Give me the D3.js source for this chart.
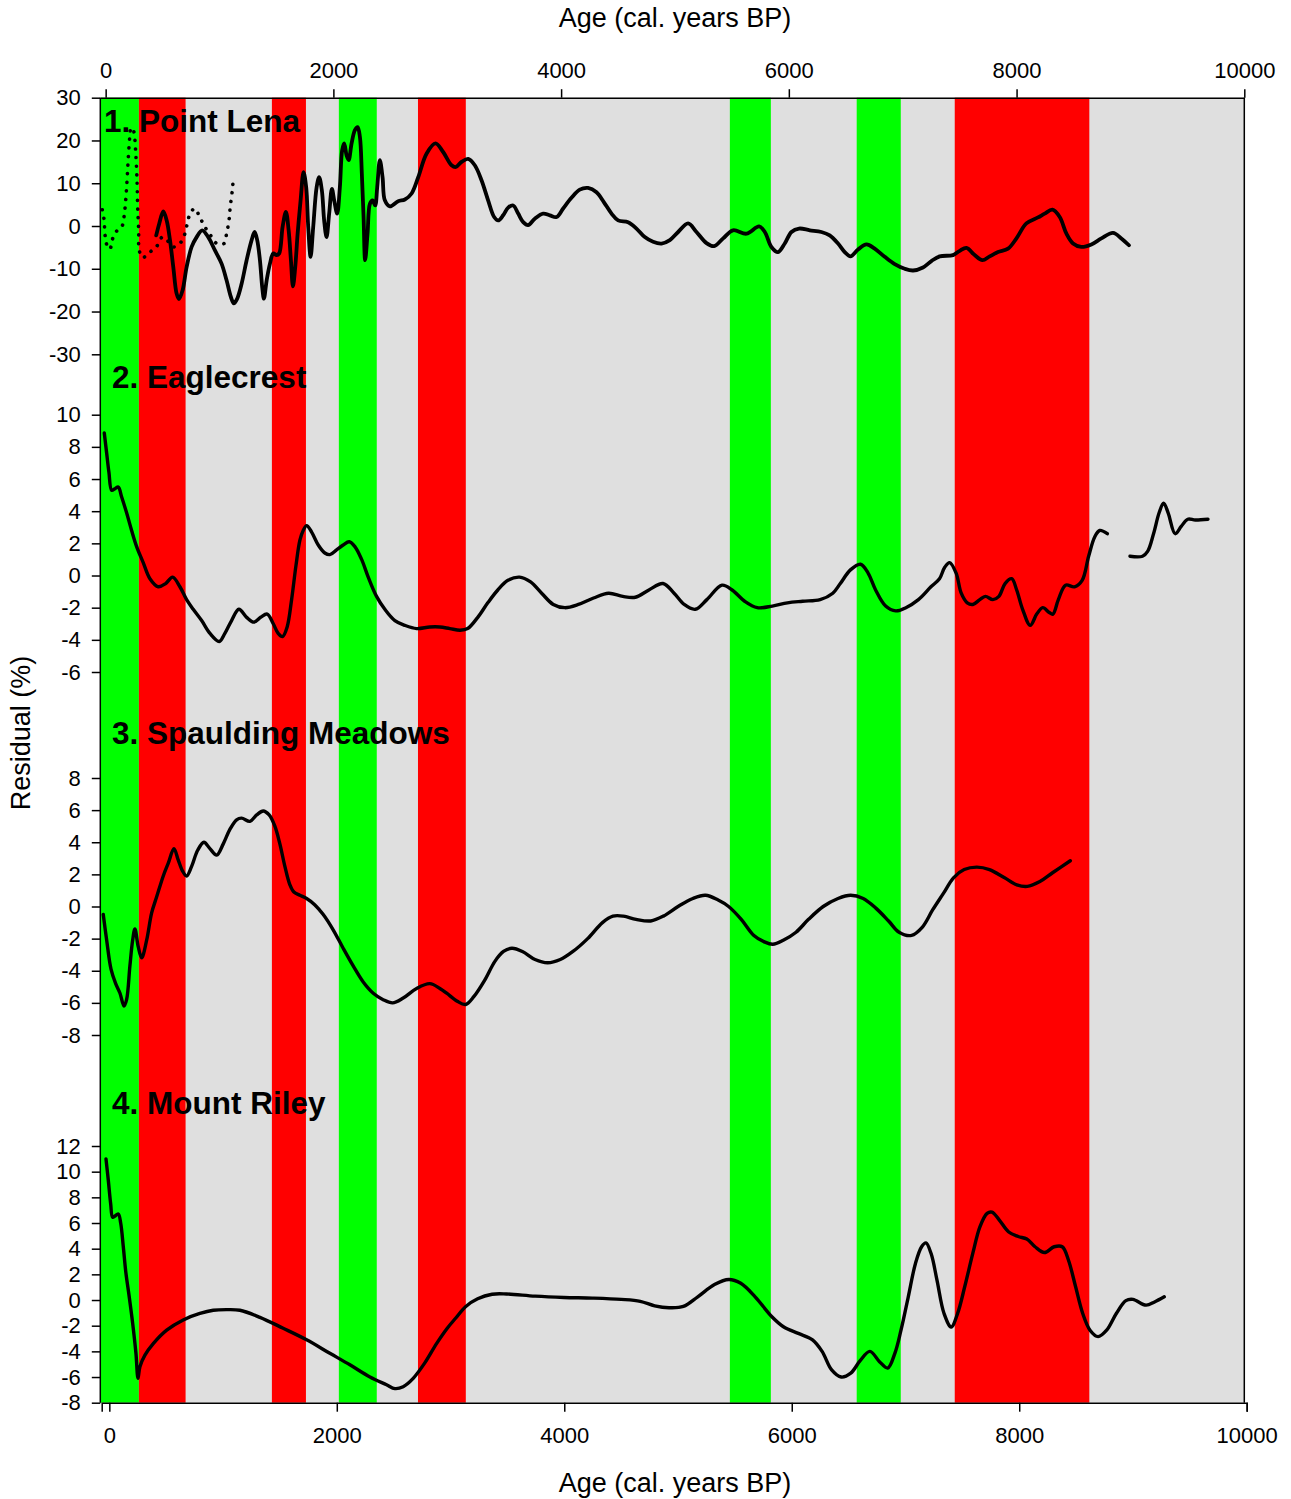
<!DOCTYPE html>
<html>
<head>
<meta charset="utf-8">
<script src="https://cdn.jsdelivr.net/npm/d3@7"></script>
<style>
  body { margin: 0; background: #fff; }
  svg text { font-family: "Liberation Sans", Arial, sans-serif; fill: #000; }
</style>
</head>
<body>
<script>
// Age axis ticks
const ageTicks = [0, 2000, 4000, 6000, 8000, 10000];

// Climate bands (cal. years BP)
const bandStarts = [-47, 292, 1460, 2048, 2743, 5482, 6596, 7457];
const bandEnds   = [292, 702, 1759, 2381, 3163, 5842, 6983, 8639];
const bandKinds  = ["green", "red", "red", "green", "red", "green", "green", "red"];

const panelTitles = ["1. Point Lena", "2. Eaglecrest", "3. Spaulding Meadows", "4. Mount Riley"];
const lenaTicks   = [-30, -20, -10, 0, 10, 20, 30];
const eagleTicks  = [-6, -4, -2, 0, 2, 4, 6, 8, 10];
const spauldTicks = [-8, -6, -4, -2, 0, 2, 4, 6, 8];
const rileyTicks  = [-8, -6, -4, -2, 0, 2, 4, 6, 8, 10, 12];

// 1. Point Lena, dotted record
const lenaDotAge = [-30, -15, -4, 9, 38, 58, 97, 143, 161, 176, 187, 196, 205, 213, 222, 237, 251, 263, 272, 277, 281, 290, 295,
  325, 389, 450, 497, 538, 594, 655, 696, 734, 781, 828, 869, 922, 977, 1039, 1062, 1083, 1094, 1112, 1120];
const lenaDotRes = [3.8, 1.7, -2.4, -4.3, -5.4, -3.2, -1.2, -0.1, 2.1, 6.0, 10.3, 14.6, 18.5, 21.2, 22.9, 22.9, 21.6, 17.7, 13.0, 9.1, 4.4, -1.0, -5.7,
  -7.4, -6.1, -4.7, -2.6, -3.3, -4.9, -4.0, -1.8, 2.3, 4.1, 2.0, -0.1, -2.2, -4.1, -4.1, -1.8, 1.3, 4.4, 8.3, 10.7];

// 1. Point Lena, solid record
const lenaAge = [444, 471, 506, 536, 565, 594, 623, 644, 676, 711, 755, 799, 848, 901, 960, 1018, 1062, 1100, 1126, 1155, 1194, 1238,
  1282, 1308, 1331, 1355, 1375, 1390, 1414, 1443, 1472, 1501, 1524, 1554, 1583, 1607, 1627, 1645, 1665, 1686, 1712, 1738, 1761,
  1779, 1800, 1823, 1853, 1875, 1899, 1919, 1940, 1963, 1987, 2007, 2033, 2057, 2077, 2095, 2116, 2134, 2160, 2189, 2213, 2233,
  2250, 2265, 2279, 2300, 2321, 2344, 2367, 2385, 2408, 2432, 2452, 2496, 2569, 2628, 2687, 2745, 2818, 2897, 2964, 3038, 3076,
  3126, 3184, 3242, 3301, 3359, 3412, 3447, 3491, 3535, 3579, 3623, 3667, 3710, 3769, 3842, 3901, 3960, 4018, 4091, 4164, 4237,
  4311, 4375, 4443, 4501, 4588, 4662, 4735, 4808, 4882, 4955, 5028, 5115, 5189, 5277, 5343, 5423, 5510, 5628, 5739, 5789, 5847,
  5905, 5964, 6023, 6090, 6184, 6286, 6359, 6432, 6491, 6541, 6608, 6682, 6754, 6842, 6930, 7018, 7091, 7178, 7252, 7325, 7442,
  7501, 7560, 7632, 7700, 7764, 7837, 7925, 7999, 8086, 8188, 8247, 8315, 8379, 8438, 8496, 8569, 8657, 8745, 8847, 8920, 8987];
const lenaRes = [-2.2, 0.6, 3.4, 1.3, -3.3, -9.6, -15.8, -17.1, -15.0, -9.6, -4.9, -2.6, -1.0, -2.6, -5.7, -8.8, -12.7, -16.6, -18.1, -17.0, -13.5, -8.0,
  -3.3, -1.4, -3.3, -8.0, -14.3, -17.0, -12.7, -8.8, -6.4, -6.8, -6.4, -0.2, 3.3, -1.0, -8.0, -14.1, -9.6, -1.8, 6.0, 12.6, 9.1,
  -0.2, -7.2, -0.2, 9.1, 11.4, 8.3, 1.3, -2.6, 2.9, 8.7, 6.0, 2.9, 9.1, 17.7, 19.3, 16.5, 15.4, 19.3, 22.4, 23.1, 20.8,
  12.2, 2.1, -8.0, -1.8, 5.2, 6.0, 4.8, 9.1, 15.4, 11.4, 6.0, 4.6, 5.8, 6.2, 7.6, 11.4, 16.9, 19.3, 17.3, 14.2, 13.8,
  15.0, 15.7, 14.2, 10.7, 6.0, 2.1, 1.3, 2.5, 4.3, 4.8, 2.9, 0.9, 0.2, 1.7, 2.9, 2.5, 2.1, 4.1, 6.6, 8.5, 8.9,
  7.9, 5.6, 2.9, 1.3, 0.9, -0.6, -2.6, -3.7, -4.1, -3.3, -1.4, 0.6, -1.4, -4.0, -4.7, -2.9, -1.0, -1.8, -0.1, -1.4, -4.9,
  -6.1, -4.1, -1.4, -0.6, -1.0, -1.4, -2.2, -4.1, -6.1, -7.1, -5.5, -4.3, -5.3, -7.2, -8.9, -10.0, -10.4, -9.7, -8.2, -7.1, -6.8,
  -5.8, -5.1, -6.8, -8.0, -7.1, -6.1, -5.3, -2.9, 0.6, 2.0, 2.9, 3.8, 2.1, -1.8, -4.1, -4.9, -4.3, -2.9, -1.6, -2.9, -4.5];

// 2. Eaglecrest
const eagleAge = [-12, 9, 29, 53, 82, 111, 140, 184, 228, 272, 330, 389, 462, 527, 588, 652, 711, 769, 843, 916, 997, 1047, 1106,
  1170, 1238, 1302, 1361, 1419, 1472, 1515, 1554, 1594, 1633, 1671, 1706, 1735, 1765, 1809, 1867, 1925, 1969, 2028, 2086, 2139,
  2189, 2248, 2306, 2379, 2452, 2540, 2628, 2731, 2847, 2935, 3023, 3113, 3179, 3268, 3356, 3444, 3533, 3635, 3732, 3829, 3931,
  4033, 4152, 4285, 4417, 4542, 4652, 4771, 4895, 4992, 5081, 5178, 5280, 5413, 5502, 5612, 5723, 5855, 5988, 6121, 6275, 6386,
  6452, 6541, 6630, 6696, 6762, 6850, 6939, 7028, 7138, 7248, 7323, 7368, 7412, 7469, 7514, 7567, 7616, 7677, 7726, 7792, 7845,
  7899, 7957, 8001, 8053, 8120, 8177, 8230, 8287, 8319, 8367, 8430, 8509, 8576, 8633, 8686, 8730, 8797];
const eagleRes = [8.86, 7.6, 6.4, 5.3, 5.4, 5.5, 4.9, 3.9, 2.8, 1.8, 0.8, -0.2, -0.7, -0.5, -0.1, -0.7, -1.5, -2.1, -2.8, -3.6, -4.1, -3.6, -2.8,
  -2.1, -2.6, -2.9, -2.6, -2.4, -3.0, -3.6, -3.8, -3.2, -1.5, 0.6, 2.2, 2.8, 3.1, 2.7, 1.9, 1.4, 1.3, 1.6, 1.9, 2.1,
  1.8, 1.0, -0.1, -1.3, -2.1, -2.8, -3.1, -3.3, -3.2, -3.2, -3.3, -3.4, -3.3, -2.6, -1.7, -0.9, -0.3, -0.1, -0.4, -1.1, -1.8,
  -2.0, -1.8, -1.4, -1.1, -1.3, -1.35, -0.9, -0.5, -1.1, -1.8, -2.1, -1.5, -0.6, -0.9, -1.6, -2.0, -1.9, -1.7, -1.6, -1.5, -1.1,
  -0.5, 0.35, 0.7, 0.15, -0.9, -1.9, -2.2, -2.0, -1.5, -0.7, -0.2, 0.5, 0.8, 0.15, -1.1, -1.7, -1.8, -1.5, -1.3, -1.5, -1.3,
  -0.5, -0.2, -0.9, -2.1, -3.1, -2.4, -2.0, -2.3, -2.4, -1.5, -0.6, -0.7, -0.3, 1.2, 2.4, 2.8, 2.6];
const eagle2Age = [8996, 9106, 9151, 9203, 9252, 9291, 9331, 9393, 9446, 9503, 9570, 9681];
const eagle2Res = [1.2, 1.2, 1.5, 2.6, 3.9, 4.5, 3.9, 2.6, 3.05, 3.5, 3.45, 3.5];

// 3. Spaulding Meadows
const spauldAge = [-21, 9, 47, 88, 126, 161, 184, 213, 237, 257, 286, 316, 360, 404, 448, 506, 550, 600, 637, 676, 711, 755, 808,
  863, 916, 975, 1033, 1091, 1150, 1194, 1267, 1326, 1384, 1436, 1486, 1530, 1574, 1618, 1653, 1706, 1765, 1838, 1911, 1998,
  2086, 2174, 2262, 2350, 2437, 2520, 2613, 2731, 2847, 2935, 2995, 3088, 3162, 3235, 3328, 3420, 3494, 3568, 3660, 3771, 3882,
  3993, 4104, 4233, 4363, 4455, 4547, 4658, 4787, 4898, 5027, 5157, 5268, 5379, 5471, 5582, 5693, 5785, 5859, 5951, 6063, 6173,
  6302, 6432, 6543, 6653, 6764, 6876, 6968, 7078, 7171, 7264, 7356, 7448, 7540, 7651, 7762, 7891, 8002, 8094, 8205, 8316, 8472];
const spauldRes = [-0.5, -2.1, -3.9, -4.8, -5.4, -6.2, -5.8, -3.7, -2.1, -1.4, -2.5, -3.2, -2.1, -0.4, 0.6, 1.9, 2.7, 3.6, 2.9, 2.2, 1.9, 2.5, 3.5,
  4.0, 3.6, 3.2, 3.9, 4.8, 5.4, 5.5, 5.3, 5.7, 5.95, 5.7, 5.0, 3.9, 2.5, 1.35, 0.9, 0.7, 0.5, 0.1, -0.5, -1.45,
  -2.6, -3.7, -4.7, -5.4, -5.8, -6.0, -5.7, -5.1, -4.8, -5.1, -5.4, -5.9, -6.1, -5.6, -4.6, -3.4, -2.8, -2.6, -2.8, -3.3, -3.5,
  -3.3, -2.8, -2.0, -1.0, -0.6, -0.6, -0.8, -0.9, -0.6, 0, 0.5, 0.7, 0.4, 0, -0.8, -1.8, -2.2, -2.35, -2.1, -1.6, -0.8,
  0, 0.5, 0.7, 0.5, -0.1, -0.9, -1.6, -1.8, -1.3, -0.2, 0.8, 1.8, 2.3, 2.45, 2.3, 1.8, 1.35, 1.25, 1.55, 2.1, 2.85];

// 4. Mount Riley
const rileyAge = [3, 23, 44, 61, 82, 111, 132, 155, 178, 207, 237, 266, 284, 301, 345, 418, 536, 681, 828, 945, 1062, 1179, 1355,
  1559, 1765, 1969, 2145, 2321, 2467, 2540, 2613, 2701, 2803, 2906, 3000, 3075, 3163, 3267, 3394, 3520, 3772, 4024, 4276, 4528, 4695,
  4822, 4948, 5074, 5200, 5347, 5473, 5578, 5704, 5851, 5956, 6083, 6208, 6292, 6376, 6460, 6544, 6628, 6712, 6796, 6868, 6931,
  6985, 7049, 7112, 7166, 7204, 7250, 7301, 7363, 7426, 7482, 7545, 7616, 7678, 7741, 7784, 7847, 7931, 8014, 8090, 8162, 8245,
  8330, 8401, 8456, 8518, 8581, 8645, 8716, 8791, 8876, 8960, 9022, 9137, 9212, 9297];
const rileyRes = [11.0, 9.35, 7.5, 6.45, 6.55, 6.7, 6.0, 4.15, 2.1, 0.25, -1.8, -4.15, -6.1, -5.2, -4.3, -3.4, -2.35, -1.55, -1.05, -0.8, -0.75, -0.8, -1.35,
  -2.2, -3.1, -4.15, -5.05, -6.0, -6.6, -6.9, -6.75, -6.1, -4.9, -3.4, -2.2, -1.4, -0.5, 0.1, 0.45, 0.47, 0.3, 0.2, 0.15, 0.05, -0.1,
  -0.45, -0.6, -0.5, 0.25, 1.2, 1.6, 1.3, 0.25, -1.3, -2.1, -2.6, -3.1, -4.0, -5.45, -6.0, -5.7, -4.7, -4.0, -4.8, -5.3, -4.15,
  -2.35, 0.25, 2.85, 4.15, 4.45, 3.6, 1.55, -1.05, -2.1, -1.05, 1.05, 3.65, 5.7, 6.75, 6.85, 6.25, 5.3, 4.95, 4.75, 4.15, 3.7,
  4.15, 4.15, 3.1, 1.05, -1.05, -2.35, -2.85, -2.35, -1.05, -0.05, 0.05, -0.4, -0.15, 0.25];

const width = 1291, height = 1499;
const plotTop = 97.7, plotBottom = 1402.7;
const bandColor = { green: "#00ff00", red: "#ff0000" };
const fontFamily = '"Liberation Sans", Arial, sans-serif';
const plainNumber = d => String(d); // hyphen-minus like the original, not U+2212

const svg = d3.select("body").append("svg")
    .attr("width", width)
    .attr("height", height);

// x scale shared by the marks and the top axis; bottom axis is drawn slightly shifted as in the original
const x = d3.scaleLinear().domain([-47, 10000]).range([100.3, 1244.3]);
const xBottom = d3.scaleLinear().domain([-67, 10000]).range([101.7, 1246.7]);

// Plot background
svg.append("rect")
    .attr("x", x(-47))
    .attr("y", plotTop)
    .attr("width", x(10000) - x(-47))
    .attr("height", plotBottom - plotTop)
    .style("fill", "#dfdfdf");

// Bands
svg.selectAll("rect.band")
    .data(bandStarts)
    .enter()
    .append("rect")
    .attr("class", "band")
    .attr("x", (d, i) => x(d))
    .attr("y", plotTop)
    .attr("width", (d, i) => x(bandEnds[i]) - x(d))
    .attr("height", plotBottom - plotTop)
    .style("fill", (d, i) => bandColor[bandKinds[i]]);

// Panels: y scale range in pixels for each
const panels = [
    { title: panelTitles[0], ticks: lenaTicks, domain: [-30, 30], range: [354.3, 97.7], titleX: 104, titleY: 131.7 },
    { title: panelTitles[1], ticks: eagleTicks, domain: [-6, 10], range: [672, 414.7], titleX: 112, titleY: 388.3 },
    { title: panelTitles[2], ticks: spauldTicks, domain: [-8, 8], range: [1035, 778], titleX: 112, titleY: 744.3 },
    { title: panelTitles[3], ticks: rileyTicks, domain: [-8, 12], range: [1402.7, 1146], titleX: 112, titleY: 1114.3 }
];
panels.forEach(p => {
    p.y = d3.scaleLinear().domain(p.domain).range(p.range);
});

const series = [
    { panel: 0, age: lenaDotAge, res: lenaDotRes, dotted: true },
    { panel: 0, age: lenaAge, res: lenaRes },
    { panel: 1, age: eagleAge, res: eagleRes },
    { panel: 1, age: eagle2Age, res: eagle2Res },
    { panel: 2, age: spauldAge, res: spauldRes },
    { panel: 3, age: rileyAge, res: rileyRes }
];

series.forEach(s => {
    const y = panels[s.panel].y;
    const line = d3.line()
        .x(d => x(d[0]))
        .y(d => y(d[1]))
        .curve(d3.curveCatmullRom.alpha(0.5));
    const pts = s.age.map((a, i) => [a, s.res[i]]);
    const path = svg.append("path")
        .attr("d", line(pts))
        .style("fill", "none")
        .style("stroke", "#000")
        .style("stroke-linejoin", "round")
        .style("stroke-linecap", "round");
    if (s.dotted) {
        path.style("stroke-width", 3.6).style("stroke-dasharray", "0.1,8.5");
    } else {
        path.style("stroke-width", s.panel === 0 ? 3.8 : 3.4);
    }
});

// Panel titles
panels.forEach(p => {
    svg.append("text")
        .attr("x", p.titleX)
        .attr("y", p.titleY)
        .style("font-size", "31.5px")
        .style("font-weight", "bold")
        .text(p.title);
});

// Y axes
panels.forEach(p => {
    const g = svg.append("g")
        .attr("transform", `translate(${x(-47)},0)`)
        .call(d3.axisLeft(p.y).tickValues(p.ticks).tickSize(8.5).tickPadding(11).tickFormat(plainNumber));
    g.select(".domain").remove();
    g.selectAll("line").style("stroke", "#000").style("stroke-width", 1.5);
    g.selectAll("text").style("font-size", "22px").style("font-family", fontFamily);
});

// Top axis
const topAxis = svg.append("g")
    .attr("transform", `translate(0,${plotTop})`)
    .call(d3.axisTop(x).tickValues(ageTicks).tickSize(8.5).tickSizeOuter(0).tickPadding(11).tickFormat(plainNumber));
topAxis.selectAll("line, path").style("stroke", "#000").style("stroke-width", 1.5);
topAxis.selectAll("text").style("font-size", "22px").style("font-family", fontFamily);

// Bottom axis
const bottomAxis = svg.append("g")
    .attr("transform", `translate(0,${plotBottom})`)
    .call(d3.axisBottom(xBottom).tickValues(ageTicks).tickSize(9).tickPadding(16).tickFormat(plainNumber));
bottomAxis.selectAll("line, path").style("stroke", "#000").style("stroke-width", 1.5);
bottomAxis.selectAll("text").style("font-size", "22px").style("font-family", fontFamily);

// Frame sides
[x(-47), x(10000)].forEach(px => {
    svg.append("line")
        .attr("x1", px).attr("x2", px)
        .attr("y1", plotTop).attr("y2", plotBottom)
        .style("stroke", "#000")
        .style("stroke-width", 1.5);
});

// Axis titles
svg.append("text")
    .attr("x", 675).attr("y", 27)
    .attr("text-anchor", "middle")
    .style("font-size", "27px")
    .text("Age (cal. years BP)");

svg.append("text")
    .attr("x", 675).attr("y", 1492)
    .attr("text-anchor", "middle")
    .style("font-size", "27px")
    .text("Age (cal. years BP)");

svg.append("text")
    .attr("transform", "translate(30,733) rotate(-90)")
    .attr("text-anchor", "middle")
    .style("font-size", "27px")
    .text("Residual (%)");
</script>
</body>
</html>
